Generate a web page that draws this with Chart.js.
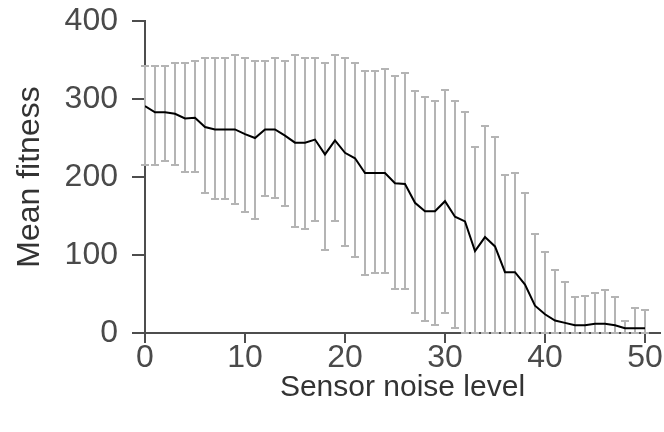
<!DOCTYPE html>
<html>
<head>
<meta charset="utf-8">
<script src="https://cdn.jsdelivr.net/npm/chart.js@4"></script>
<style>
  html, body { margin: 0; padding: 0; background: #fff; }
  #wrap { width: 664px; height: 432px; }
</style>
</head>
<body>
<div id="wrap"><canvas id="fitness-chart" width="664" height="432"></canvas></div>
<script>
// data
let noiseLevels = [0, 1, 2, 3, 4, 5, 6, 7, 8, 9, 10, 11, 12, 13, 14, 15, 16, 17, 18, 19, 20,
    21, 22, 23, 24, 25, 26, 27, 28, 29, 30, 31, 32, 33, 34, 35, 36, 37, 38, 39, 40,
    41, 42, 43, 44, 45, 46, 47, 48, 49, 50]

let meanFitness = [291, 283, 283, 281, 275, 276, 264, 261, 261, 261, 255,
    250, 261, 261, 253, 244, 244, 248, 229, 247, 231,
    224, 205, 205, 205, 192, 191, 167, 156, 156, 169,
    149, 143, 105, 123, 111, 78, 78, 62, 35, 24,
    16, 13, 10, 10, 12, 12, 10, 6, 6, 6]

// top and bottom of each error bar (bottoms stop at the axis)
let upperBar = [342, 342, 342, 346, 346, 349, 352, 352, 352, 356, 352,
    349, 349, 352, 349, 356, 352, 352, 346, 356, 352,
    346, 336, 336, 339, 330, 333, 310, 303, 297, 312,
    297, 283, 238, 266, 251, 202, 205, 179, 127, 104,
    81, 65, 46, 48, 51, 55, 46, 16, 32, 29]

let lowerBar = [216, 215, 221, 215, 206, 206, 179, 172, 172, 166, 155,
    146, 176, 173, 163, 136, 133, 143, 107, 143, 111,
    97, 74, 77, 77, 56, 56, 26, 16, 10, 26,
    7, 0, 0, 0, 0, 0, 0, 0, 0, 0,
    0, 0, 0, 0, 0, 0, 0, 0, 0, 0]

let xTicks = [0, 10, 20, 30, 40, 50]
let yTicks = [0, 100, 200, 300, 400]

let axisColor = '#4d4d4d'
let tickFont = { family: 'Liberation Sans', size: 32 }

// gray error bars, painted over the axes and under the line
let errorBars = {
    id: 'errorBars',
    beforeDatasetsDraw(chart) {
        let ctx = chart.ctx
        let xScale = chart.scales.x
        let yScale = chart.scales.y
        ctx.save()
        ctx.strokeStyle = '#b4b4b4'
        ctx.lineWidth = 2
        noiseLevels.forEach(function(level, i) {
            let px = Math.round(xScale.getPixelForValue(level))
            let top = Math.round(yScale.getPixelForValue(upperBar[i]))
            let bottom = Math.round(yScale.getPixelForValue(lowerBar[i]))
            ctx.beginPath()
            ctx.moveTo(px, top)
            ctx.lineTo(px, bottom)
            ctx.moveTo(px - 4, top)
            ctx.lineTo(px + 4, top)
            ctx.moveTo(px - 4, bottom)
            ctx.lineTo(px + 4, bottom)
            ctx.stroke()
        })
        ctx.restore()
    }
}

let canvas = document.querySelector('#fitness-chart')
let context = canvas.getContext('2d')

let chart = new Chart(context, {
    type: 'line',
    data: {
        datasets: [{
            label: 'Mean fitness',
            data: noiseLevels.map((level, i) => ({ x: level, y: meanFitness[i] })),
            borderColor: '#000',
            borderWidth: 2,
            pointRadius: 0,
            tension: 0,
            fill: false
        }]
    },
    options: {
        responsive: false,
        animation: false,
        devicePixelRatio: 1,
        layout: { padding: { top: 21, right: 4, left: 0, bottom: 0 } },
        plugins: {
            legend: { display: false },
            tooltip: { enabled: false }
        },
        scales: {
            x: {
                type: 'linear',
                min: 0,
                max: 51.5,
                afterBuildTicks: scale => { scale.ticks = xTicks.map(v => ({ value: v })) },
                afterFit: scale => {
                    scale.height = 99
                    scale.paddingLeft = 0
                    scale.paddingRight = 0
                },
                border: { color: axisColor, width: 2 },
                grid: { drawOnChartArea: false, color: axisColor, lineWidth: 2, tickLength: 10 },
                ticks: { color: '#4a4a4a', font: tickFont, padding: -4, maxRotation: 0 },
                title: {
                    display: true,
                    text: 'Sensor noise level',
                    color: '#333',
                    font: { family: 'Liberation Sans', size: 30 },
                    padding: { top: 0, bottom: 26 }
                }
            },
            y: {
                min: 0,
                max: 400,
                afterBuildTicks: scale => { scale.ticks = yTicks.map(v => ({ value: v })) },
                afterFit: scale => {
                    scale.width = 145
                    scale.paddingTop = 0
                    scale.paddingBottom = 0
                },
                border: { color: axisColor, width: 2 },
                grid: { drawOnChartArea: false, color: axisColor, lineWidth: 2, tickLength: 13 },
                ticks: { color: '#4a4a4a', font: tickFont, padding: 14 },
                title: {
                    display: true,
                    text: 'Mean fitness',
                    color: '#333',
                    font: { family: 'Liberation Sans', size: 32 },
                    padding: { top: 11, bottom: 0 }
                }
            }
        }
    },
    plugins: [errorBars]
})
</script>
</body>
</html>
